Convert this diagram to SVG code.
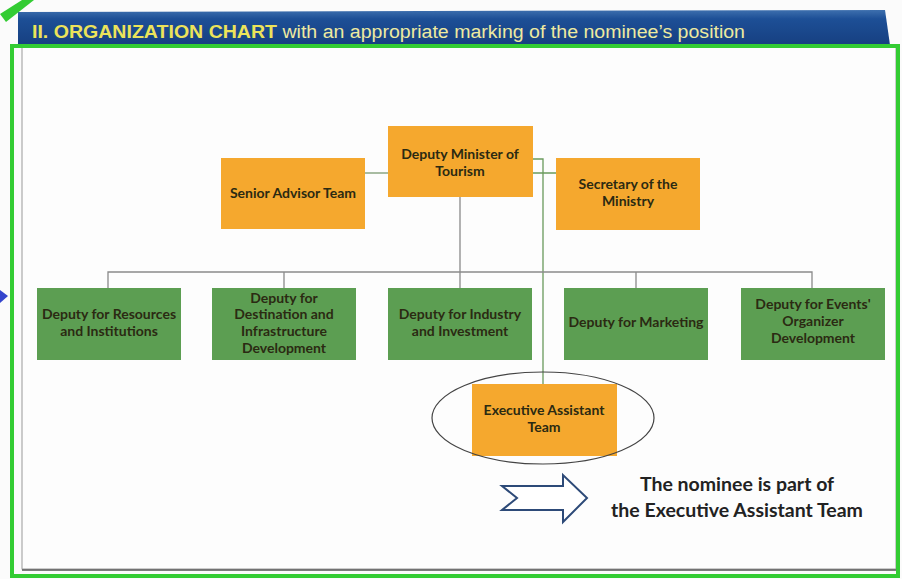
<svg xmlns="http://www.w3.org/2000/svg" width="902" height="579" viewBox="0 0 902 579">
<defs>
<style>
.org rect{fill:#f5a82e}
.grn rect{fill:#5c9e52}
.t{font-family:Lato,"Open Sans",sans-serif;font-weight:bold;font-size:14px;fill:#2b2a12;text-anchor:middle}
.c{fill:none;stroke-width:1.3}
</style>
<linearGradient id="bg" x1="0" y1="0" x2="0" y2="1">
<stop offset="0" stop-color="#3d6fae"/><stop offset="0.25" stop-color="#1d4f96"/><stop offset="1" stop-color="#163f80"/>
</linearGradient>
</defs>
<rect x="0" y="0" width="902" height="579" fill="#fbfbfb"/>
<!-- banner -->
<path d="M18 12 L885 10 L890 45 L18 46 Z" fill="url(#bg)"/>
<path d="M0 14 L22 0 L34 0 L6 22 Z" fill="#33cc33"/>
<text x="32" y="38" textLength="713" lengthAdjust="spacingAndGlyphs" font-family="'Liberation Sans',Arial,sans-serif" font-size="18" fill="#eeeaa0"><tspan font-weight="bold" fill="#ece35a">II. ORGANIZATION CHART</tspan> with an appropriate marking of the nominee’s position</text>
<!-- page -->
<rect x="22" y="47" width="874" height="522" fill="#fdfdfd" stroke="#9a9a9a" stroke-width="1"/>
<line x1="22" y1="570" x2="896" y2="570" stroke="#555" stroke-width="1.5"/>
<rect x="12" y="46" width="886" height="530" fill="none" stroke="#33cc33" stroke-width="4"/>
<path d="M0 290 L8 296 L0 303 Z" fill="#3344cc"/>
<!-- connectors -->
<g id="connectors">
<path class="c" stroke="#7a9a72" d="M365 173 H388"/>
<path class="c" stroke="#6a9a5c" d="M533 159 H543 V384 M533 173 H556"/>
<path class="c" stroke="#8a8a8a" d="M460 197 V272 M108 288 V272 H812 V288 M284 272 V288 M460 272 V288 M636 272 V288"/>
</g>
<!-- nodes -->
<g id="deputy-minister" class="org"><rect x="388" y="126" width="145" height="71"/><text class="t"><tspan x="460" y="159">Deputy Minister of</tspan><tspan x="460" y="176">Tourism</tspan></text></g>
<g id="senior-advisor" class="org"><rect x="221" y="158" width="144" height="71"/><text class="t" x="293" y="198">Senior Advisor Team</text></g>
<g id="secretary" class="org"><rect x="556" y="158" width="144" height="72"/><text class="t"><tspan x="628" y="189">Secretary of the</tspan><tspan x="628" y="206">Ministry</tspan></text></g>
<g id="dep-resources" class="grn"><rect x="37" y="288" width="144" height="72"/><text class="t"><tspan x="109" y="319">Deputy for Resources</tspan><tspan x="109" y="336">and Institutions</tspan></text></g>
<g id="dep-destination" class="grn"><rect x="212" y="288" width="144" height="72"/><text class="t"><tspan x="284" y="303">Deputy for</tspan><tspan x="284" y="319">Destination and</tspan><tspan x="284" y="336">Infrastructure</tspan><tspan x="284" y="353">Development</tspan></text></g>
<g id="dep-industry" class="grn"><rect x="388" y="288" width="144" height="72"/><text class="t"><tspan x="460" y="319">Deputy for Industry</tspan><tspan x="460" y="336">and Investment</tspan></text></g>
<g id="dep-marketing" class="grn"><rect x="564" y="288" width="144" height="72"/><text class="t" x="636" y="327">Deputy for Marketing</text></g>
<g id="dep-events" class="grn"><rect x="741" y="288" width="144" height="72"/><text class="t"><tspan x="813" y="309">Deputy for Events'</tspan><tspan x="813" y="326">Organizer</tspan><tspan x="813" y="343">Development</tspan></text></g>
<g id="exec-assistant" class="org"><rect x="472" y="384" width="145" height="72"/><text class="t"><tspan x="544" y="415">Executive Assistant</tspan><tspan x="544" y="432">Team</tspan></text></g>
<ellipse cx="543" cy="418" rx="111" ry="46" fill="none" stroke="#444" stroke-width="1.2"/>
<!-- nominee note -->
<path d="M502 486 H563 V475 L587 498 L563 522 V510 H502 L517 498 Z" fill="#fff" stroke="#2d4a78" stroke-width="2"/>
<text font-family="Lato,'Open Sans',sans-serif" font-weight="bold" font-size="19.5" fill="#222" text-anchor="middle"><tspan x="737" y="491">The nominee is part of</tspan><tspan x="737" y="517">the Executive Assistant Team</tspan></text>
</svg>
